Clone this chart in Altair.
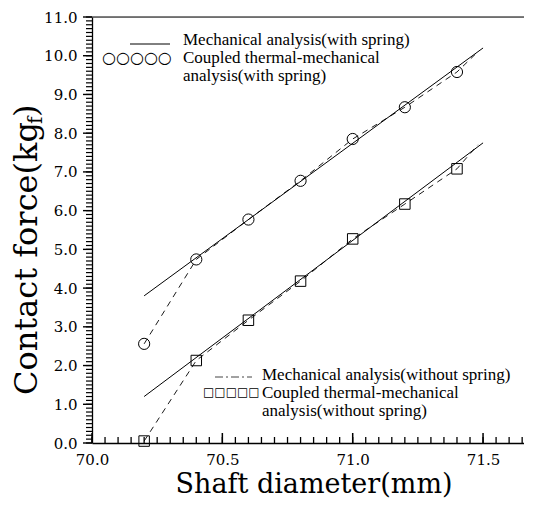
import altair as alt
import pandas as pd

# ---------------- data ----------------
shaft_x = [70.2, 70.4, 70.6, 70.8, 71.0, 71.2, 71.4]
coupled_with_spring = [2.56, 4.74, 5.77, 6.77, 7.85, 8.67, 9.58]
coupled_without_spring = [0.05, 2.13, 3.17, 4.18, 5.27, 6.17, 7.08]

dash_end_x = 71.48
dash_end_with = 10.1
dash_end_without = 7.7

mech_x = [70.2, 71.5]
mech_with_spring = [3.8, 10.2]
mech_without_spring = [1.2, 7.75]

x_labels = [70.0, 70.5, 71.0, 71.5]
x_minor = [round(70 + 0.05 * i, 2) for i in range(34)]
y_labels = [float(i) for i in range(12)]
y_minor = [round(0.1 * i, 1) for i in range(111)]

legend_top = ["Mechanical analysis(with spring)", "Coupled thermal-mechanical", "analysis(with spring)"]
legend_bottom = ["Mechanical analysis(without spring)", "Coupled thermal-mechanical", "analysis(without spring)"]
x_title = "Shaft diameter(mm)"
y_title_main = "Contact force(kg"
y_title_sub = "f"
y_title_end = ")"

# ---------------- layout ----------------
W, H = 432, 426
PX_PER_UNIT = 260.7
PX_PER_Y = H / 11.0
TITLE_FONT = "DejaVu Serif"
TICK_FONT = "DejaVu Serif"
LEG_FONT = "Liberation Serif"

xscale = alt.Scale(domain=[70, 70 + W / PX_PER_UNIT], nice=False, zero=False)
yscale = alt.Scale(domain=[0, 11], nice=False, zero=False)

x_axis = alt.Axis(orient="bottom", values=x_labels, format=".1f", ticks=False,
                  labelPadding=9, labelFont=TICK_FONT, labelFontSize=15,
                  labelColor="black", domainColor="black", domainWidth=1.3,
                  grid=False, labelFlush=False, title=None)
y_axis = alt.Axis(orient="left", values=y_labels, format=".1f", ticks=False,
                  labelPadding=15, labelFont=TICK_FONT, labelFontSize=15,
                  labelColor="black", domainColor="black", domainWidth=1.3,
                  grid=False, labelFlush=False, title=None)

def X(axis=None):
    return alt.X("x:Q", scale=xscale, axis=axis)

def Y(axis=None):
    return alt.Y("y:Q", scale=yscale, axis=axis)

df_pts = pd.DataFrame({"x": shaft_x, "yw": coupled_with_spring, "yo": coupled_without_spring})
df_dash_w = pd.DataFrame({"x": shaft_x + [dash_end_x], "y": coupled_with_spring + [dash_end_with]})
df_dash_o = pd.DataFrame({"x": shaft_x + [dash_end_x], "y": coupled_without_spring + [dash_end_without]})
df_mech_w = pd.DataFrame({"x": mech_x, "y": mech_with_spring})
df_mech_o = pd.DataFrame({"x": mech_x, "y": mech_without_spring})

axis_holder = alt.Chart(pd.DataFrame({"x": [70.0], "y": [0.0]})).mark_point(opacity=0).encode(
    x=X(x_axis), y=Y(y_axis))

# tick marks drawn through the scales as short line segments (x inward, y outward)
def xticks(values, length_px, width):
    n = len(values)
    df = pd.DataFrame({
        "x": list(values) + list(values),
        "y": [0.0] * n + [length_px / PX_PER_Y] * n,
        "k": list(range(n)) * 2,
    })
    return alt.Chart(df).mark_line(color="black", strokeWidth=width).encode(
        x=X(), y=Y(), detail="k:N")

def yticks(values, length_px, width):
    n = len(values)
    df = pd.DataFrame({
        "y": list(values) + list(values),
        "x": [70.0] * n + [70 - length_px / PX_PER_UNIT] * n,
        "k": list(range(n)) * 2,
    })
    return alt.Chart(df).mark_line(color="black", strokeWidth=width).encode(
        x=X(), y=Y(), detail="k:N", order="x:Q")

tick_layers = [
    xticks(x_minor, 6, 1.3),
    xticks(x_labels, 10, 1.5),
    yticks(y_minor, 6, 1.2),
    yticks(y_labels, 9, 1.4),
]

frame_top = alt.Chart(pd.DataFrame({"a": [0]})).mark_rule(color="black", strokeWidth=1.2).encode(
    y=alt.Y(datum=11, scale=yscale, axis=None))

mech_w = alt.Chart(df_mech_w).mark_line(color="black", strokeWidth=1).encode(x=X(), y=Y())
mech_o = alt.Chart(df_mech_o).mark_line(color="black", strokeWidth=1).encode(x=X(), y=Y())
dash_w = alt.Chart(df_dash_w).mark_line(color="black", strokeWidth=0.9, strokeDash=[6, 5]).encode(x=X(), y=Y())
dash_o = alt.Chart(df_dash_o).mark_line(color="black", strokeWidth=0.9, strokeDash=[6, 5]).encode(x=X(), y=Y())

circles = alt.Chart(df_pts).mark_point(shape="circle", size=125, filled=False, color="black",
                                        strokeWidth=1, opacity=1).encode(
    x=X(), y=alt.Y("yw:Q", scale=yscale, axis=None))
squares = alt.Chart(df_pts).mark_point(shape="square", size=110, filled=False, color="black",
                                        strokeWidth=1, opacity=1).encode(
    x=X(), y=alt.Y("yo:Q", scale=yscale, axis=None))

def txt(s, x, y, size, font=LEG_FONT, align="left", baseline="middle", angle=0, color="black"):
    return alt.Chart(pd.DataFrame({"t": [s]})).mark_text(
        align=align, baseline=baseline, font=font, fontSize=size, angle=angle, color=color
    ).encode(text="t:N", x=alt.value(x), y=alt.value(y))

def rule(x1, x2, y, dash=None, color="black", width=1):
    kw = dict(color=color, strokeWidth=width)
    if dash:
        kw["strokeDash"] = dash
    return alt.Chart(pd.DataFrame({"a": [0]})).mark_rule(**kw).encode(
        x=alt.value(x1), x2=alt.value(x2), y=alt.value(y))

LEG = 17
legend_layers = [
    rule(38, 78, 27),
    txt(legend_top[0], 91, 23, LEG),
    txt("○○○○○", 10, 41, 16, font="DejaVu Sans"),
    txt(legend_top[1], 91, 41, LEG),
    txt(legend_top[2], 91, 59, LEG),
    rule(123, 160, 360, dash=[8, 3, 2, 3], color="#444"),
    txt(legend_bottom[0], 170, 358, LEG),
    txt("□□□□□", 111, 375, 12, font="DejaVu Sans"),
    txt(legend_bottom[1], 170, 376, LEG),
    txt(legend_bottom[2], 170, 394, LEG),
]

title_layers = [
    txt(x_title, 222, 476, 27, font=TITLE_FONT, align="center", baseline="alphabetic"),
    txt(y_title_main, -55, 378, 32, font=TITLE_FONT, align="left", baseline="alphabetic", angle=270),
    txt(y_title_sub, -50, 107, 20, font=TITLE_FONT, align="left", baseline="alphabetic", angle=270),
    txt(y_title_end, -55, 100, 32, font=TITLE_FONT, align="left", baseline="alphabetic", angle=270),
]

chart = alt.layer(
    axis_holder, *tick_layers, frame_top,
    mech_w, mech_o, dash_w, dash_o, circles, squares,
    *legend_layers, *title_layers
).resolve_axis(x="independent", y="independent").properties(
    width=W, height=H,
    padding={"left": 84, "top": 9, "right": 0, "bottom": 55},
    autosize=alt.AutoSizeParams(type="none"),
).configure_view(stroke=None).configure(background="white")

chart.save("out.html", embed_options={"renderer": "svg", "actions": False})
